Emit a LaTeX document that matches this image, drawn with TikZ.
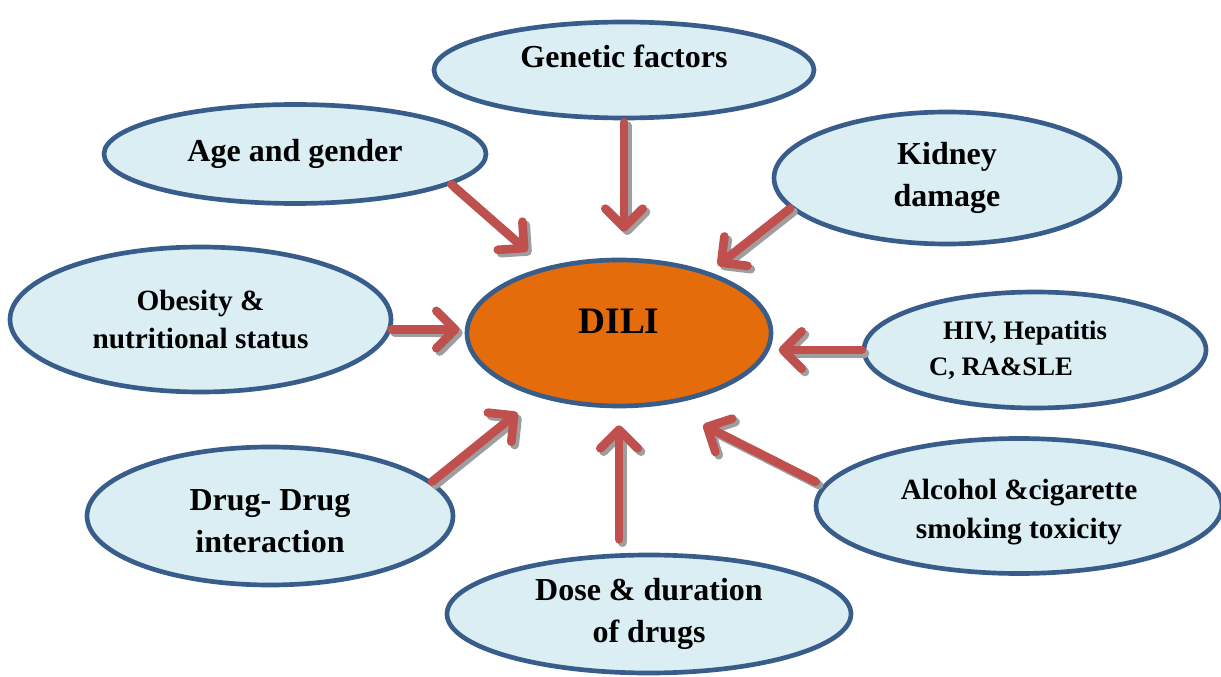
\documentclass[tikz,border=0pt]{standalone}
\usepackage{fontspec}
\setmainfont{Liberation Serif}
\usetikzlibrary{shapes.geometric,arrows.meta}
\definecolor{edgeblue}{HTML}{385D8A}
\definecolor{paleblue}{HTML}{DAEEF3}
\definecolor{liverorange}{HTML}{E46C0A}
\definecolor{arrowred}{HTML}{C0504D}
\begin{document}
\begin{tikzpicture}[x=0.75pt,y=-0.75pt,
    factor/.style={ellipse, draw=edgeblue, fill=paleblue, line width=3.5pt, inner sep=0pt,
        align=center, font=\bfseries\fontsize{24}{31}\selectfont},
    feed/.style={draw=arrowred, line width=6.5pt, line cap=round,
        -{Straight Barb[length=14pt,width=28pt,line cap=round,line join=round]}},
    shadowed/.style={draw=black!38, transform canvas={shift={(2.5pt,-2.5pt)}}}]
                \useasboundingbox (0,0) rectangle (1221,677);
                \node[factor, minimum width=285pt, minimum height=72pt](GEN) at (624,70) {\raisebox{21pt}{Genetic factors}};
                \node[factor, minimum width=286.5pt, minimum height=74.25pt](AGE) at (295,154) {Age and gender};
                \node[factor, minimum width=259.5pt, minimum height=99pt](KID) at (947,178) {Kidney\\damage};
                \node[factor, minimum width=285.75pt, minimum height=108.75pt, font=\bfseries\fontsize{22}{29}\selectfont](OBE) at (200.5,319.5) {Obesity \&\\nutritional status};
                \node[factor, fill=liverorange, minimum width=228pt, minimum height=109.5pt, font=\bfseries\fontsize{28}{34}\selectfont](DILI) at (619,333) {\raisebox{18pt}{DILI}};
                \node[factor, minimum width=256.5pt, minimum height=87pt, font=\bfseries\fontsize{20}{27}\selectfont](HIV) at (1035,350) {HIV, Hepatitis\hspace*{15pt}\\C, RA\&SLE\hspace*{51pt}};
                \node[factor, minimum width=274.5pt, minimum height=103.5pt, font=\bfseries\fontsize{24}{32}\selectfont](DRUG) at (270,516) {\raisebox{0pt}[\dimexpr\height+8pt]{Drug- Drug}\\interaction};
                \node[factor, minimum width=304.5pt, minimum height=101.25pt, font=\bfseries\fontsize{22}{29}\selectfont](ALC) at (1019,506) {\raisebox{0pt}[\dimexpr\height+9pt]{Alcohol \&cigarette}\\smoking toxicity};
                \node[factor, minimum width=303pt, minimum height=88.5pt](DOSE) at (649,614) {Dose \& duration\\of drugs};
                \coordinate (GENIN) at (GEN.south |- DILI.north);
                \coordinate (OBEIN) at (OBE.-3 -| DILI.west);
                \coordinate (HIVIN) at (HIV.west -| DILI.east);
                \coordinate (DOSEOUT) at (DOSE.north -| DILI.south);
                % every factor points at DILI, grey shadow first
                \foreach \src/\dst/\sa/\sb in {GEN.south/GENIN/1.5pt/19.5pt, AGE.-11.6/DILI.138/0pt/18pt,
                    KID.191.5/DILI.34/0pt/8pt, OBE.-3/OBEIN/0pt/4pt, HIV.west/HIVIN/0pt/4pt,
                    DRUG.12.5/DILI.218/0pt/19pt, DOSEOUT/DILI.south/10pt/12.75pt, ALC.174.4/DILI.-58/6pt/33pt}
                {
                    \draw[feed, shadowed, shorten <=\sa, shorten >=\sb] (\src) -- (\dst);
                    \draw[feed, shorten <=\sa, shorten >=\sb] (\src) -- (\dst);
                }
            \end{tikzpicture}
\end{document}
